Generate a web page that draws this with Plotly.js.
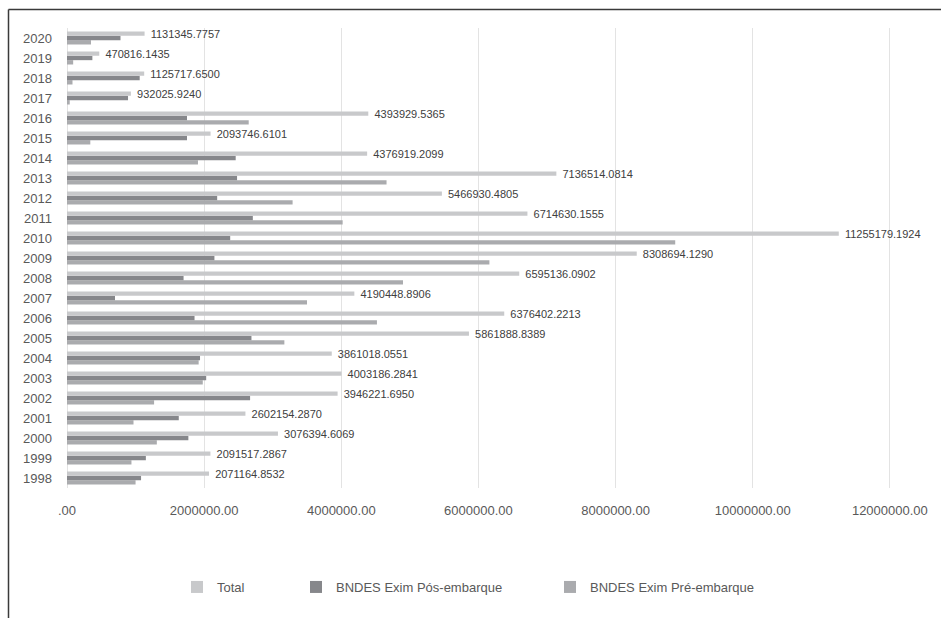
<!DOCTYPE html>
<html>
<head>
<meta charset="utf-8">
<script src="https://cdn.plot.ly/plotly-3.0.1.min.js"></script>
<style>html,body{margin:0;padding:0;background:#fff;}#chart{width:941px;height:618px;}</style>
</head>
<body>
<div id="chart"></div>
<script>
const years = ["1998","1999","2000","2001","2002","2003","2004","2005","2006","2007","2008","2009","2010","2011","2012","2013","2014","2015","2016","2017","2018","2019","2020"];
const total = [2071164.8532,2091517.2867,3076394.6069,2602154.2870,3946221.6950,4003186.2841,3861018.0551,5861888.8389,6376402.2213,4190448.8906,6595136.0902,8308694.1290,11255179.1924,6714630.1555,5466930.4805,7136514.0814,4376919.2099,2093746.6101,4393929.5365,932025.9240,1125717.6500,470816.1435,1131345.7757];
const posEmbarque = [1080000,1150000,1770000,1630000,2670000,2030000,1940000,2690000,1860000,700000,1700000,2150000,2380000,2710000,2190000,2480000,2460000,1750000,1750000,890000,1060000,370000,780000];
const preEmbarque = [1000000,940000,1310000,970000,1270000,1980000,1920000,3170000,4520000,3500000,4900000,6160000,8870000,4020000,3290000,4660000,1910000,340000,2650000,40000,80000,90000,350000];
const seriesNames = ["Total","BNDES Exim Pós-embarque","BNDES Exim Pré-embarque"];
const xTickVals = [0,2000000,4000000,6000000,8000000,10000000,12000000];
const xTickText = [".00","2000000.00","4000000.00","6000000.00","8000000.00","10000000.00","12000000.00"];

const colors = ["#c8c9cb","#86878b","#aaabae"];
const W = 941, H = 618, L = 67, R = 34, T = 28, B = 130;
const pw = W - L - R, ph = H - T - B;
const px = v => (v - L) / pw;
const py = v => (H - B - v) / ph;

const traces = [
  {type:"bar", orientation:"h", y:years, x:preEmbarque, name:seriesNames[2], marker:{color:colors[2]}, legend:"legend3", hoverinfo:"skip"},
  {type:"bar", orientation:"h", y:years, x:posEmbarque, name:seriesNames[1], marker:{color:colors[1]}, legend:"legend2", hoverinfo:"skip"},
  {type:"bar", orientation:"h", y:years, x:total, name:seriesNames[0], marker:{color:colors[0]}, legend:"legend", hoverinfo:"skip",
   text: total.map(v => "\u00a0\u00a0" + v.toFixed(4)), textposition:"outside", cliponaxis:false, constraintext:"none",
   textfont:{family:"Liberation Sans Narrow, Arial Narrow, Liberation Sans, sans-serif", size:11, color:"#404040"}}
];

const legBase = {orientation:"h", yanchor:"middle", xanchor:"left", y:py(587), bgcolor:"rgba(0,0,0,0)",
  font:{family:"Liberation Sans, Arial, sans-serif", size:13, color:"#595959"}};

const layout = {
  width:W, height:H,
  margin:{l:L, r:R, t:T, b:B},
  paper_bgcolor:"#fff", plot_bgcolor:"#fff",
  barmode:"group", bargap:0.35, bargroupgap:0,
  font:{family:"Liberation Sans, Arial, sans-serif", color:"#595959"},
  xaxis:{range:[0,12250000], tickvals:xTickVals, ticktext:xTickText, showgrid:true, gridcolor:"#e3e3e3", gridwidth:1,
    zeroline:true, zerolinecolor:"#e3e3e3", zerolinewidth:1, showline:false, ticks:"", ticklabelstandoff:13,
    tickfont:{size:13, color:"#595959"}, fixedrange:true},
  yaxis:{type:"category", showgrid:false, zeroline:false, showline:false, ticks:"", ticklabelstandoff:14,
    tickfont:{size:13, color:"#595959"}, fixedrange:true},
  showlegend:true,
  legend:Object.assign({}, legBase, {x:px(177)}),
  legend2:Object.assign({}, legBase, {x:px(296)}),
  legend3:Object.assign({}, legBase, {x:px(550)}),
  shapes:[
    {type:"line", xref:"paper", yref:"paper", x0:px(8.5), x1:px(945), y0:py(9.5), y1:py(9.5), line:{color:"#3a3a3a", width:1.5}},
    {type:"line", xref:"paper", yref:"paper", x0:px(8.5), x1:px(8.5), y0:py(9.5), y1:py(622), line:{color:"#3a3a3a", width:1.5}}
  ]
};

Plotly.newPlot("chart", traces, layout, {displayModeBar:false, staticPlot:true});
</script>
</body>
</html>
